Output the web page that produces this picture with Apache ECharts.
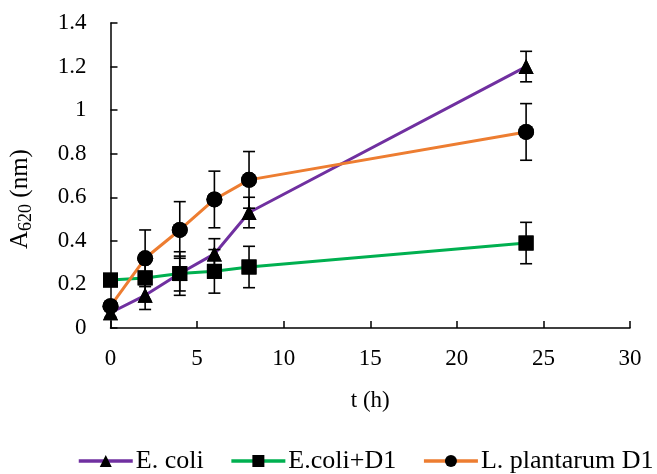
<!DOCTYPE html>
<html><head><meta charset="utf-8">
<script src="https://cdn.jsdelivr.net/npm/echarts@6/dist/echarts.min.js"></script>
<style>html,body{margin:0;padding:0;background:#fff}#c{width:657px;height:474px}</style>
</head><body><div id="c"></div>
<script>
var times = [0, 2, 4, 6, 8, 24];
var ecoli = [0.07, 0.15, 0.25, 0.34, 0.53, 1.20];
var ecoliErr = [0.02, 0.065, 0.08, 0.07, 0.07, 0.07];
var ecoliD1 = [0.22, 0.23, 0.25, 0.26, 0.28, 0.39];
var ecoliD1Err = [0.02, 0.1, 0.1, 0.1, 0.095, 0.095];
var lpD1 = [0.10, 0.32, 0.45, 0.59, 0.68, 0.90];
var lpD1Err = [0.02, 0.13, 0.13, 0.13, 0.13, 0.13];
var names = ['E. coli', 'E.coli+D1', 'L. plantarum D1'];
var colors = ['#7030a0', '#00b050', '#ed7d31'];
var symbols = ['triangle', 'rect', 'circle'];
var symbolSizes = [15, 15, 16];
var font = 'Liberation Serif';

function pairs(v){ return times.map(function(t,i){ return [t, v[i]]; }); }
function errData(v, e){ return times.map(function(t,i){ return [t, v[i]-e[i], v[i]+e[i]]; }); }
function errSeries(v, e){
  return {
    type: 'custom', z: 3, silent: true,
    data: errData(v, e),
    renderItem: function(params, api){
      var lo = api.coord([api.value(0), api.value(1)]);
      var hi = api.coord([api.value(0), api.value(2)]);
      var w = 6;
      var st = {stroke: '#000', lineWidth: 1.6};
      return {type: 'group', children: [
        {type: 'line', shape: {x1: lo[0], y1: lo[1], x2: hi[0], y2: hi[1]}, style: st},
        {type: 'line', shape: {x1: lo[0]-w, y1: lo[1], x2: lo[0]+w, y2: lo[1]}, style: st},
        {type: 'line', shape: {x1: hi[0]-w, y1: hi[1], x2: hi[0]+w, y2: hi[1]}, style: st}
      ]};
    }
  };
}
var vals = [ecoli, ecoliD1, lpD1];
var errs = [ecoliErr, ecoliD1Err, lpD1Err];
var series = [];
vals.forEach(function(v, k){
  series.push({
    name: names[k], type: 'line', data: pairs(v), z: 2,
    symbol: symbols[k], symbolSize: symbolSizes[k],
    lineStyle: {color: colors[k], width: 3},
    itemStyle: {color: '#000', borderWidth: 0},
    color: colors[k]
  });
});
vals.forEach(function(v, k){ series.push(errSeries(v, errs[k])); });
vals.forEach(function(v, k){
  series.push({
    type: 'line', data: pairs(v), z: 4, silent: true,
    symbol: symbols[k], symbolSize: symbolSizes[k],
    lineStyle: {width: 0, opacity: 0},
    itemStyle: {color: '#000', borderWidth: 0}
  });
});

var chart = echarts.init(document.getElementById('c'));
chart.setOption({
  animation: false,
  backgroundColor: '#fff',
  grid: {left: 109, right: 27, top: 23, bottom: 146},
  legend: {
    data: names.map(function(n,k){ return {name: n, itemStyle: {color: '#000'}, lineStyle: {color: colors[k], width: 3.5}}; }),
    top: 448, left: 77, itemWidth: 54, itemHeight: 15, itemGap: 26, padding: 0,
    textStyle: {fontFamily: font, fontSize: 26, color: '#000', padding: [0, 0, 0, -2]}
  },
  xAxis: {
    type: 'value', min: 0, max: 30, interval: 5,
    name: 't (h)', nameLocation: 'middle', nameGap: 61,
    nameTextStyle: {fontFamily: font, fontSize: 23, color: '#000'},
    axisLine: {show: true, lineStyle: {color: '#000', width: 1.5}},
    axisTick: {show: true, inside: true, length: 7, lineStyle: {color: '#000', width: 1.5}},
    axisLabel: {fontFamily: font, fontSize: 23, color: '#000', margin: 19},
    splitLine: {show: false}
  },
  yAxis: {
    type: 'value', min: 0, max: 1.4, interval: 0.2,
    name: '{a|A}{s|620}{a| (nm)}', nameLocation: 'middle', nameGap: 75,
    nameTextStyle: {fontFamily: font, fontSize: 25, color: '#000', padding: [0, 47, 0, 0],
      rich: {a: {fontFamily: font, fontSize: 25, color: '#000'},
             s: {fontFamily: font, fontSize: 18, color: '#000', padding: [12, 0, 0, 0]}}},
    axisLine: {show: true, lineStyle: {color: '#000', width: 1.5}},
    axisTick: {show: true, inside: true, length: 7, lineStyle: {color: '#000', width: 1.5}},
    axisLabel: {fontFamily: font, fontSize: 23, color: '#000', margin: 24,
      formatter: function(v){ return String(Math.round(v*10)/10); }},
    splitLine: {show: false}
  },
  series: series
});
</script></body></html>
